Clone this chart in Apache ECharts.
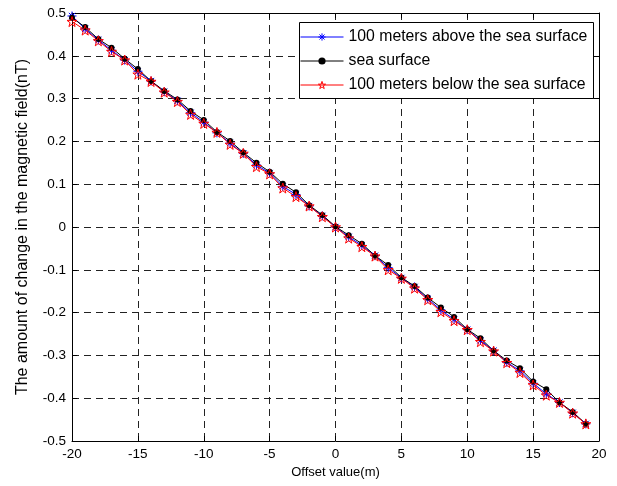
<!DOCTYPE html>
<html>
<head>
<meta charset="utf-8">
<script src="https://cdn.jsdelivr.net/npm/echarts@6/dist/echarts.min.js"></script>
<style>html,body{margin:0;padding:0;background:#fff;}#c{width:617px;height:486px;}</style>
</head>
<body>
<div id="c"></div>
<script>
const offsets = [-20,-19,-18,-17,-16,-15,-14,-13,-12,-11,-10,-9,-8,-7,-6,-5,-4,-3,-2,-1,0,1,2,3,4,5,6,7,8,9,10,11,12,13,14,15,16,17,18,19];
const above = [0.493,0.463,0.437,0.413,0.390,0.364,0.341,0.316,0.295,0.267,0.245,0.220,0.196,0.172,0.145,0.126,0.095,0.076,0.049,0.026,0.000,-0.023,-0.043,-0.067,-0.095,-0.119,-0.140,-0.168,-0.194,-0.216,-0.240,-0.265,-0.289,-0.316,-0.336,-0.365,-0.390,-0.410,-0.434,-0.460];
const surface = [0.489,0.467,0.439,0.419,0.393,0.369,0.341,0.318,0.298,0.271,0.250,0.222,0.201,0.174,0.150,0.129,0.101,0.081,0.051,0.028,0.001,-0.019,-0.039,-0.067,-0.089,-0.118,-0.138,-0.165,-0.188,-0.210,-0.239,-0.260,-0.289,-0.312,-0.330,-0.361,-0.379,-0.410,-0.432,-0.460];
const below = [0.480,0.460,0.435,0.410,0.390,0.357,0.340,0.315,0.293,0.263,0.242,0.221,0.193,0.172,0.141,0.124,0.091,0.071,0.049,0.024,0.000,-0.026,-0.046,-0.068,-0.100,-0.120,-0.143,-0.170,-0.198,-0.219,-0.240,-0.268,-0.290,-0.317,-0.340,-0.369,-0.393,-0.410,-0.435,-0.460];
const seriesNames = ['100 meters above the sea surface','sea surface','100 meters below the sea surface'];
const seriesColors = ['#0000ff','#000000','#ff0000'];

const FONT = 'Liberation Sans, Arial, sans-serif';
const asterisk = 'path://M5,0 L5,10 M0,5 L10,5 M1.5,1.5 L8.5,8.5 M1.5,8.5 L8.5,1.5';
const pentagram = 'path://M5,0 L6.18,3.64 L10,3.64 L6.91,5.88 L8.09,9.51 L5,7.27 L1.91,9.51 L3.09,5.88 L0,3.64 L3.82,3.64 Z';

function zip(ys){ return offsets.map((x,i)=>[x, ys[i]]); }

const chart = echarts.init(document.getElementById('c'), null, {renderer:'canvas'});
const dashed = {show:true, lineStyle:{color:'#222', type:[7,5], width:1}};
const axisLineStyle = {show:true, onZero:false, lineStyle:{color:'#000', width:1}};
const legendStyles = [
  {itemStyle:{color:'none', borderColor:seriesColors[0], borderWidth:1}, lineStyle:{color:seriesColors[0], width:1}},
  {itemStyle:{color:seriesColors[1], borderColor:seriesColors[1], borderWidth:0}, lineStyle:{color:seriesColors[1], width:1}},
  {itemStyle:{color:'none', borderColor:seriesColors[2], borderWidth:1}, lineStyle:{color:seriesColors[2], width:1}}
];
chart.setOption({
  animation:false,
  backgroundColor:'#fff',
  textStyle:{fontFamily:FONT},
  grid:{left:72, right:18, top:13, bottom:45},
  graphic:[{
    type:'rect', z:5, silent:true,
    shape:{x:299.5, y:22.5, width:294, height:76},
    style:{fill:'#fff', stroke:'#000', lineWidth:1}
  }],
  legend:{
    orient:'vertical', left:299, top:21, z:6,
    backgroundColor:'transparent', borderWidth:0,
    padding:[8,0,7,1], itemWidth:43, itemHeight:9, itemGap:8,
    textStyle:{fontFamily:FONT, fontSize:15.8, color:'#000'},
    data:seriesNames.map((n,i)=>Object.assign({name:n}, legendStyles[i]))
  },
  xAxis:[{
    type:'value', min:-20, max:20, interval:5, position:'bottom',
    name:'Offset value(m)', nameLocation:'middle', nameGap:22,
    nameTextStyle:{fontFamily:FONT, fontSize:13, color:'#000'},
    axisLine:axisLineStyle,
    axisTick:{show:true, inside:true, length:5, lineStyle:{color:'#000'}},
    axisLabel:{fontFamily:FONT, fontSize:13.5, color:'#000', margin:6},
    splitLine:dashed
  },{
    type:'value', min:-20, max:20, interval:5, position:'top',
    axisLine:axisLineStyle,
    axisTick:{show:true, inside:true, length:5, lineStyle:{color:'#000'}},
    axisLabel:{show:false}, splitLine:{show:false}
  }],
  yAxis:[{
    type:'value', min:-0.5, max:0.5, interval:0.1, position:'left',
    name:'The amount of change in the magnetic field(nT)', nameLocation:'middle', nameGap:41, nameRotate:90,
    nameTextStyle:{fontFamily:FONT, fontSize:16, color:'#000'},
    axisLine:axisLineStyle,
    axisTick:{show:true, inside:true, length:5, lineStyle:{color:'#000'}},
    axisLabel:{fontFamily:FONT, fontSize:13.5, color:'#000', margin:6, formatter:v=>String(+v.toFixed(1))},
    splitLine:dashed
  },{
    type:'value', min:-0.5, max:0.5, interval:0.1, position:'right',
    axisLine:axisLineStyle,
    axisTick:{show:true, inside:true, length:5, lineStyle:{color:'#000'}},
    axisLabel:{show:false}, splitLine:{show:false}
  }],
  series:[
    {name:seriesNames[0], type:'line', data:zip(above), symbol:asterisk, symbolSize:9,
     lineStyle:{color:seriesColors[0], width:1}, itemStyle:{color:'none', borderColor:seriesColors[0], borderWidth:1}, color:seriesColors[0]},
    {name:seriesNames[1], type:'line', data:zip(surface), symbol:'circle', symbolSize:6,
     lineStyle:{color:seriesColors[1], width:1}, itemStyle:{color:seriesColors[1], borderColor:seriesColors[1], borderWidth:0}, color:seriesColors[1]},
    {name:seriesNames[2], type:'line', data:zip(below), symbol:pentagram, symbolSize:10,
     lineStyle:{color:seriesColors[2], width:1}, itemStyle:{color:'none', borderColor:seriesColors[2], borderWidth:1}, color:seriesColors[2]}
  ]
});
</script>
</body>
</html>
